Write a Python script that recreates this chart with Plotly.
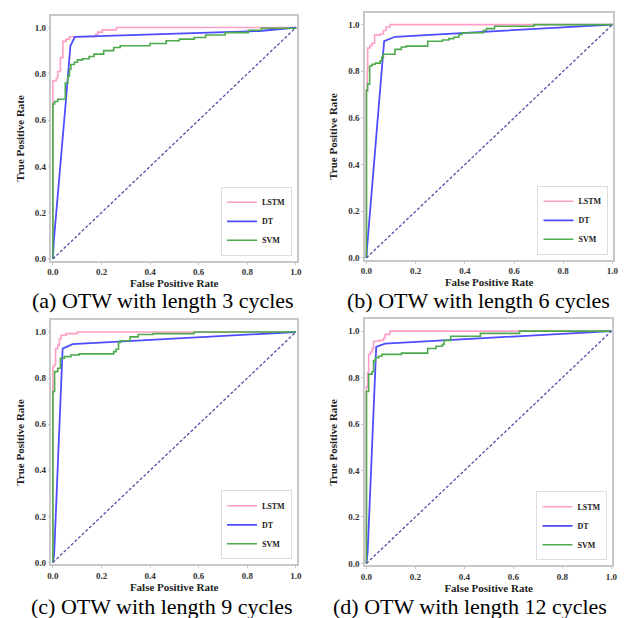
import plotly.graph_objects as go

W, H = 639, 618
SERIF = "Liberation Serif"

model_names = ["LSTM", "DT", "SVM"]
model_colors = ["#ff9ec8", "#4d4dff", "#4daa4d"]
captions = ["(a) OTW with length 3 cycles", "(b) OTW with length 6 cycles",
            "(c) OTW with length 9 cycles", "(d) OTW with length 12 cycles"]
tick_vals = [0.0, 0.2, 0.4, 0.6, 0.8, 1.0]
tick_text = ["0.0", "0.2", "0.4", "0.6", "0.8", "1.0"]
diag = [0.0, 1.0]

# ---- (a) 3 cycles ----
lstm_fpr_a = [0, 0, 0.0135, 0.02, 0.031, 0.041, 0.054, 0.068, 0.176, 0.185, 0.203, 0.261, 1.0]
lstm_tpr_a = [0, 0.77, 0.78, 0.81, 0.87, 0.94, 0.95, 0.96, 0.97, 0.98, 0.99, 1.0, 1.0]
dt_fpr_a = [0, 0.004, 0.054, 0.072, 0.09, 0.85, 1.0]
dt_tpr_a = [0, 0.08, 0.69, 0.92, 0.96, 0.985, 1.0]
svm_fpr_a = [0, 0, 0.007, 0.02, 0.051, 0.061, 0.068, 0.074, 0.088, 0.101, 0.122, 0.149, 0.169,
             0.209, 0.25, 0.277, 0.399, 0.466, 0.52, 0.581, 0.628, 0.709, 0.804, 0.858, 1.0]
svm_tpr_a = [0, 0.67, 0.68, 0.69, 0.76, 0.79, 0.82, 0.84, 0.85, 0.86, 0.865, 0.875, 0.885,
             0.9, 0.914, 0.921, 0.931, 0.943, 0.95, 0.957, 0.968, 0.978, 0.988, 0.997, 1.0]

# ---- (b) 6 cycles ----
lstm_fpr_b = [0, 0, 0.003, 0.005, 0.015, 0.023, 0.033, 0.056, 0.069, 0.08, 0.096, 1.0]
lstm_tpr_b = [0, 0.72, 0.8, 0.9, 0.91, 0.92, 0.955, 0.96, 0.975, 0.99, 1.0, 1.0]
dt_fpr_b = [0, 0.003, 0.072, 0.116, 1.0]
dt_tpr_b = [0, 0.05, 0.929, 0.948, 1.0]
svm_fpr_b = [0, 0, 0.005, 0.013, 0.023, 0.036, 0.056, 0.0625, 0.069, 0.116, 0.142, 0.162,
             0.249, 0.309, 0.335, 0.355, 0.375, 0.388, 0.475, 0.488, 0.521, 0.681, 1.0]
svm_tpr_b = [0, 0.717, 0.745, 0.823, 0.83, 0.835, 0.845, 0.86, 0.873, 0.894, 0.904, 0.908,
             0.929, 0.934, 0.94, 0.946, 0.958, 0.965, 0.975, 0.983, 0.993, 1.0, 1.0]

# ---- (c) 9 cycles ----
lstm_fpr_c = [0, 0, 0.007, 0.011, 0.02, 0.027, 0.034, 0.054, 0.101, 1.0]
lstm_tpr_c = [0, 0.85, 0.86, 0.928, 0.943, 0.971, 0.986, 0.993, 1.0, 1.0]
dt_fpr_c = [0, 0.005, 0.04, 0.081, 1.0]
dt_tpr_c = [0, 0.03, 0.928, 0.947, 1.0]
svm_fpr_c = [0, 0, 0.007, 0.02, 0.031, 0.047, 0.074, 0.108, 0.25, 0.26, 0.27, 0.277,
             0.318, 0.351, 0.412, 0.581, 1.0]
svm_tpr_c = [0, 0.742, 0.828, 0.843, 0.886, 0.893, 0.9, 0.905, 0.915, 0.925, 0.955, 0.962,
             0.979, 0.989, 0.993, 1.0, 1.0]

# ---- (d) 12 cycles ----
lstm_fpr_d = [0, 0, 0.005, 0.009, 0.016, 0.023, 0.029, 0.05, 0.07, 0.076, 0.096, 1.0]
lstm_tpr_d = [0, 0.76, 0.82, 0.9, 0.91, 0.925, 0.956, 0.96, 0.97, 0.986, 1.0, 1.0]
dt_fpr_d = [0, 0.005, 0.04, 0.076, 1.0]
dt_tpr_d = [0, 0.05, 0.932, 0.946, 1.0]
svm_fpr_d = [0, 0, 0.009, 0.023, 0.029, 0.036, 0.05, 0.063, 0.143, 0.25, 0.284, 0.31,
             0.317, 0.344, 0.465, 0.625, 1.0]
svm_tpr_d = [0, 0.74, 0.815, 0.825, 0.872, 0.885, 0.892, 0.9, 0.905, 0.925, 0.935, 0.943,
             0.96, 0.978, 0.99, 1.0, 1.0]

panels = [
    ((lstm_fpr_a, lstm_tpr_a), (dt_fpr_a, dt_tpr_a), (svm_fpr_a, svm_tpr_a)),
    ((lstm_fpr_b, lstm_tpr_b), (dt_fpr_b, dt_tpr_b), (svm_fpr_b, svm_tpr_b)),
    ((lstm_fpr_c, lstm_tpr_c), (dt_fpr_c, dt_tpr_c), (svm_fpr_c, svm_tpr_c)),
    ((lstm_fpr_d, lstm_tpr_d), (dt_fpr_d, dt_tpr_d), (svm_fpr_d, svm_tpr_d)),
]

# plot-area boxes in pixels: (left, right, top, bottom)
boxes = [(40, 289, 8, 254), (358, 610, 5, 253), (40, 289, 314, 559), (358, 609, 313, 560)]
caption_pos = [(153, 294), (473, 294), (152, 601), (465, 601)]
shapes_per_model = ["hv", "linear", "hv"]
widths = [1.6, 1.8, 1.6]

fig = go.Figure()
layout = dict(
    width=W, height=H, margin=dict(l=0, r=0, t=0, b=0),
    paper_bgcolor="white", plot_bgcolor="white", showlegend=True,
    annotations=[],
)

for i, (series, box) in enumerate(zip(panels, boxes)):
    sfx = "" if i == 0 else str(i + 1)
    xa, ya = "x" + sfx, "y" + sfx
    leg = "legend" + sfx
    l, r, t, b = box
    xdom = [l / W, r / W]
    ydom = [1 - b / H, 1 - t / H]
    for (xs, ys), name, col, shp, lw in zip(series, model_names, model_colors, shapes_per_model, widths):
        fig.add_trace(go.Scatter(x=xs, y=ys, mode="lines", name=name,
                                 line=dict(color=col, width=lw, shape=shp),
                                 xaxis=xa, yaxis=ya, legend=leg))
    fig.add_trace(go.Scatter(x=diag, y=diag, mode="lines", showlegend=False,
                             line=dict(color="#4f4fa8", width=1.3, dash="3px,2px"),
                             xaxis=xa, yaxis=ya, hoverinfo="skip"))
    axis_common = dict(
        showgrid=False, zeroline=False, showline=True, mirror=True,
        linecolor="#c8c8c8", linewidth=1.5, ticks="outside", ticklen=2,
        tickcolor="#c8c8c8", tickvals=tick_vals, ticktext=tick_text,
        tickfont=dict(family=SERIF, size=9, color="#333333", weight="bold"),
    )
    layout["xaxis" + sfx] = dict(
        axis_common, domain=xdom, range=[-0.006, 1.004], anchor=ya,
        title=dict(text="<b>False Positive Rate</b>", standoff=0,
                   font=dict(family=SERIF, size=11, color="#222222")),
    )
    layout["yaxis" + sfx] = dict(
        axis_common, domain=ydom, range=[-0.008, 1.05], anchor=xa,
        title=dict(text="<b>True Positive Rate</b>", standoff=8,
                   font=dict(family=SERIF, size=11, color="#222222")),
    )
    layout[leg] = dict(
        x=(r - 5) / W, y=1 - (b - 5) / H, xanchor="right", yanchor="bottom",
        xref="paper", yref="paper",
        bgcolor="white", bordercolor="#dddddd", borderwidth=1,
        font=dict(family=SERIF, size=8, color="#222222", weight="bold"),
        itemwidth=30, tracegroupgap=0,
    )
    cx, cy = caption_pos[i]
    layout["annotations"].append(dict(
        text=captions[i], x=cx / W, y=1 - cy / H, xref="paper", yref="paper",
        xanchor="center", yanchor="middle", showarrow=False, borderpad=0,
        font=dict(family=SERIF, size=22, color="black"),
    ))

fig.update_layout(**layout)
fig.write_html("out.html")
